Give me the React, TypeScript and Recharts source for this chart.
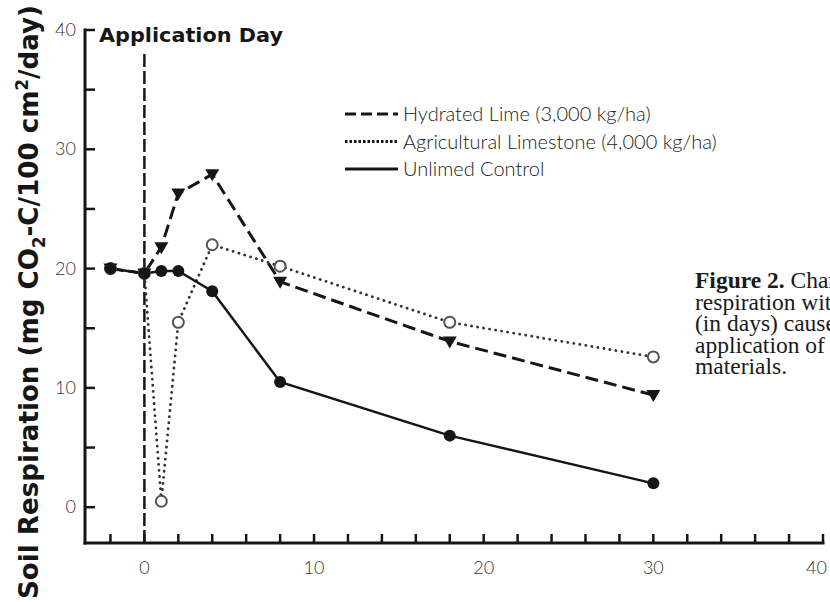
import { LineChart, Line, XAxis, YAxis, ReferenceLine } from 'recharts'

const days = [-2, 0, 1, 2, 4, 8, 18, 30]
const hydratedLime = [20, 19.6, 21.8, 26.3, 27.9, 18.9, 13.9, 9.4]
const agLimestone = [20, 19.6, 0.5, 15.5, 22, 20.2, 15.5, 12.6]
const unlimedControl = [20, 19.6, 19.8, 19.8, 18.1, 10.5, 6, 2]

const xTicks = [-2, 0, 2, 4, 6, 8, 10, 12, 14, 16, 18, 20, 22, 24, 26, 28, 30, 32, 34, 36, 38, 40]
const yTicks = [0, 5, 10, 15, 20, 25, 30, 35, 40]

const legendLabels = [
  'Hydrated Lime (3,000 kg/ha)',
  'Agricultural Limestone (4,000 kg/ha)',
  'Unlimed Control',
]
const captionTitle = 'Figure 2.'
const captionLines = [
  ' Changes in soil',
  'respiration with time',
  '(in days) caused by the',
  'application of liming',
  'materials.',
]

const chartData = days.map((day, i) => ({
  day,
  hydrated: hydratedLime[i],
  limestone: agLimestone[i],
  control: unlimedControl[i],
}))

const INK = '#161616'
const tickFont = "Lato, 'Open Sans', sans-serif"
const lastX = xTicks[xTicks.length - 1]

// ticks point inward, labels only on the decades
const XTick = ({ x, y, payload }: any) => {
  const isLast = payload.value === lastX
  return (
    <g>
      <line x1={x} y1={y} x2={x} y2={y - 9} stroke={INK} strokeWidth={2.5} />
      {payload.value % 10 === 0 && (
        <text
          x={isLast ? x + 4 : x}
          y={y + 31}
          textAnchor={isLast ? 'end' : 'middle'}
          fontFamily={tickFont}
          fontWeight={300}
          fontSize={18}
          fill="#333"
        >
          {payload.value}
        </text>
      )}
    </g>
  )
}

const YTick = ({ x, y, payload }: any) => (
  <g>
    <line x1={x} y1={y} x2={x + 10} y2={y} stroke={INK} strokeWidth={2.5} />
    {payload.value % 10 === 0 && (
      <text x={x - 9} y={y + 6} textAnchor="end" fontFamily={tickFont} fontWeight={300} fontSize={18} fill="#333">
        {payload.value}
      </text>
    )}
  </g>
)

const triangleDot = (p: any) => {
  if (p.cx == null || p.cy == null) return <g key={`t${p.index}`} />
  const { cx, cy } = p
  return <path key={`t${p.index}`} d={`M${cx - 7},${cy - 5} L${cx + 7},${cy - 5} L${cx},${cy + 7} Z`} fill={INK} />
}

const legendStyles = [
  { dash: '11 5', width: 3, color: INK },
  { dash: '2.5 2', width: 3, color: INK },
  { dash: undefined, width: 3, color: INK },
]

export default function App() {
  return (
    <div style={{ position: 'relative', width: 830, height: 602, overflow: 'hidden', background: '#fff' }}>
      <style>{'body{margin:0}'}</style>
      <LineChart width={830} height={602} data={chartData} margin={{ top: 30, right: 7, bottom: 19, left: 0 }}>
        <XAxis
          type="number"
          dataKey="day"
          domain={[-3.5, 40]}
          ticks={xTicks}
          interval={0}
          tickSize={0}
          tickMargin={0}
          tickLine={false}
          axisLine={{ stroke: INK, strokeWidth: 3, strokeLinecap: 'square' }}
          tick={XTick}
          height={40}
        />
        <YAxis
          type="number"
          domain={[-3, 40]}
          ticks={yTicks}
          interval={0}
          tickSize={0}
          tickMargin={0}
          tickLine={false}
          axisLine={{ stroke: INK, strokeWidth: 3, strokeLinecap: 'square' }}
          tick={YTick}
          width={85}
        />
        <ReferenceLine
          segment={[{ x: 0, y: -3 }, { x: 0, y: 38.3 }]}
          stroke={INK}
          strokeWidth={2.5}
          strokeDasharray="13 4"
        />
        <Line
          dataKey="limestone"
          stroke="#333"
          strokeWidth={2.8}
          strokeDasharray="0.1 6"
          strokeLinecap="round"
          dot={{ r: 5.5, stroke: '#555', strokeWidth: 2, fill: '#fff', strokeDasharray: '' }}
          isAnimationActive={false}
        />
        <Line
          dataKey="hydrated"
          stroke={INK}
          strokeWidth={3}
          strokeDasharray="13 6"
          dot={triangleDot}
          isAnimationActive={false}
        />
        <Line
          dataKey="control"
          stroke={INK}
          strokeWidth={2.5}
          dot={{ r: 6, fill: INK, stroke: INK, strokeWidth: 0 }}
          isAnimationActive={false}
        />
      </LineChart>

      <svg width={830} height={602} style={{ position: 'absolute', left: 0, top: 0, pointerEvents: 'none' }}>
        <text
          transform="translate(38,302) rotate(-90)"
          textAnchor="middle"
          fontFamily="'DejaVu Sans', sans-serif"
          fontWeight={700}
          fontSize={27}
          fill={INK}
          textLength={594}
          lengthAdjust="spacingAndGlyphs"
        >
          Soil Respiration (mg CO<tspan dy={7} fontSize={17}>2</tspan>
          <tspan dy={-7}>-C/100 cm</tspan>
          <tspan dy={-10} fontSize={17}>2</tspan>
          <tspan dy={10}>/day)</tspan>
        </text>

        <text
          x={99}
          y={42}
          fontFamily="'DejaVu Sans', sans-serif"
          fontWeight={700}
          fontSize={20}
          fill={INK}
          textLength={184}
          lengthAdjust="spacingAndGlyphs"
        >
          Application Day
        </text>

        {legendLabels.map((label, i) => {
          const y = 114 + i * 27.5
          const s = legendStyles[i]
          return (
            <g key={label}>
              <line x1={345} y1={y} x2={398} y2={y} stroke={s.color} strokeWidth={s.width} strokeDasharray={s.dash} />
              <text x={403} y={y + 7} fontFamily={tickFont} fontWeight={300} fontSize={20} fill="#222">
                {label}
              </text>
            </g>
          )
        })}

        <text fontFamily="'Liberation Serif', serif" fontSize={23.5} fill="#1a1a1a">
          {captionLines.map((line, i) => (
            <tspan key={i} x={i === 0 ? undefined : 695} y={288 + i * 21.5}>
              {i === 0 && (
                <tspan x={695} fontWeight={700}>
                  {captionTitle}
                </tspan>
              )}
              {line}
            </tspan>
          ))}
        </text>
      </svg>
    </div>
  )
}
